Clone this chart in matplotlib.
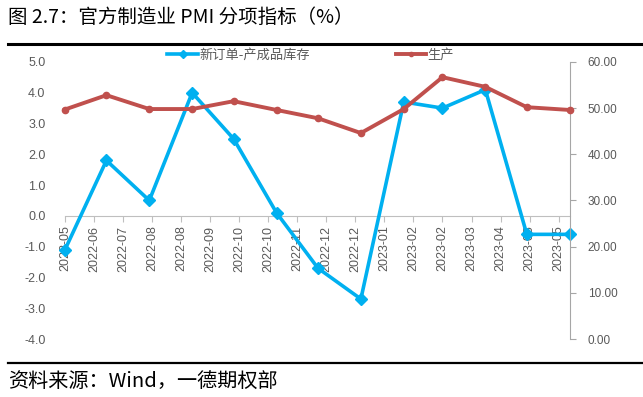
import matplotlib
matplotlib.use("Agg")
import matplotlib.dates as mdates
import matplotlib.pyplot as plt
import numpy as np
import pandas as pd
from matplotlib.lines import Line2D
from matplotlib.ticker import FormatStrFormatter

plt.rcParams["font.family"] = ["Noto Sans CJK SC", "DejaVu Sans"]

months = ["2022-05", "2022-06", "2022-07", "2022-08", "2022-09", "2022-10", "2022-11",
          "2022-12", "2023-01", "2023-02", "2023-03", "2023-04", "2023-05"]
order_minus_inventory = [-1.1, 1.8, 0.5, 4.0, 2.5, 0.1, -1.7, -2.7, 3.7, 3.5, 4.1, -0.6, -0.6]
production = [49.7, 52.8, 49.8, 49.8, 51.5, 49.6, 47.8, 44.6, 49.8, 56.7, 54.6, 50.2, 49.6]

BLUE = "#00B0F0"
RED = "#C0504D"
GRAY = "#595959"
NUM_FONT = "Liberation Sans"

# Excel date axis: points at month ends, labels every 21 days
dates = pd.to_datetime(months) + pd.offsets.MonthEnd(0)
tick_dates = dates[0] + pd.to_timedelta(np.arange(18) * 21, unit="D")

fig = plt.figure(figsize=(6.43, 3.97), dpi=100)
ax = fig.add_axes([0.101, 0.146, 0.785, 0.698])
ax2 = ax.twinx()

ax.plot(dates, order_minus_inventory, color=BLUE, lw=2.6, marker="D", ms=6,
        clip_on=False, zorder=3)
ax2.plot(dates, production, color=RED, lw=2.8, marker="o", ms=4.5,
         clip_on=False, zorder=3)

ax.set_xlim(dates[0], dates[-1])
ax.set_ylim(-4, 5)
ax.set_yticks(np.arange(-4, 5.1, 1))
ax.yaxis.set_major_formatter(FormatStrFormatter("%.1f"))
ax2.set_ylim(0, 60)
ax2.set_yticks(np.arange(0, 61, 10))
ax2.yaxis.set_major_formatter(FormatStrFormatter("%.2f"))

for side in ["left", "top", "right"]:
    ax.spines[side].set_visible(False)
ax.spines["bottom"].set_position(("data", 0))
ax.spines["bottom"].set_color("#BFBFBF")
for side in ["left", "top", "bottom"]:
    ax2.spines[side].set_visible(False)
ax2.spines["right"].set_color("#A6A6A6")

ax.set_xticks(tick_dates)
ax.xaxis.set_major_formatter(mdates.DateFormatter("%Y-%m"))
ax.tick_params(axis="x", labelrotation=90, labelsize=9, colors=GRAY, length=4,
               color="#BFBFBF", pad=3)
ax.tick_params(axis="y", labelsize=9, colors=GRAY, length=0, pad=14)
ax2.tick_params(axis="y", labelsize=8.5, colors=GRAY, length=4, color="#A6A6A6",
                direction="out", pad=9)
for lbl in ax.get_xticklabels() + ax.get_yticklabels() + ax2.get_yticklabels():
    lbl.set_fontfamily(NUM_FONT)
for lbl in ax.get_xticklabels():
    lbl.set_verticalalignment("top")

handles = [
    Line2D([0], [0], color=BLUE, lw=2.6, marker="D", ms=4),
    Line2D([0], [0], color=RED, lw=2.8, marker="o", ms=3),
]
fig.legend(handles, ["新订单-产成品库存", "生产"], loc="center", ncol=2,
           bbox_to_anchor=(0.483, 0.862), frameon=False, fontsize=9.5,
           labelcolor=GRAY, handlelength=2.3, handletextpad=0.1, columnspacing=6.5)

fig.text(0.012, 0.957, "图 2.7：官方制造业 PMI 分项指标（%）", fontsize=14,
         va="center", ha="left", color="black")
fig.add_artist(Line2D([0.012, 1.0], [0.889, 0.889], color="black", lw=2.2,
                      transform=fig.transFigure))
fig.add_artist(Line2D([0.012, 1.0], [0.085, 0.085], color="black", lw=1.6,
                      transform=fig.transFigure))
fig.text(0.012, 0.038, "资料来源：Wind，一德期权部", fontsize=14.5, va="center",
         ha="left", color="black")

fig.savefig("out.png", dpi=100)
